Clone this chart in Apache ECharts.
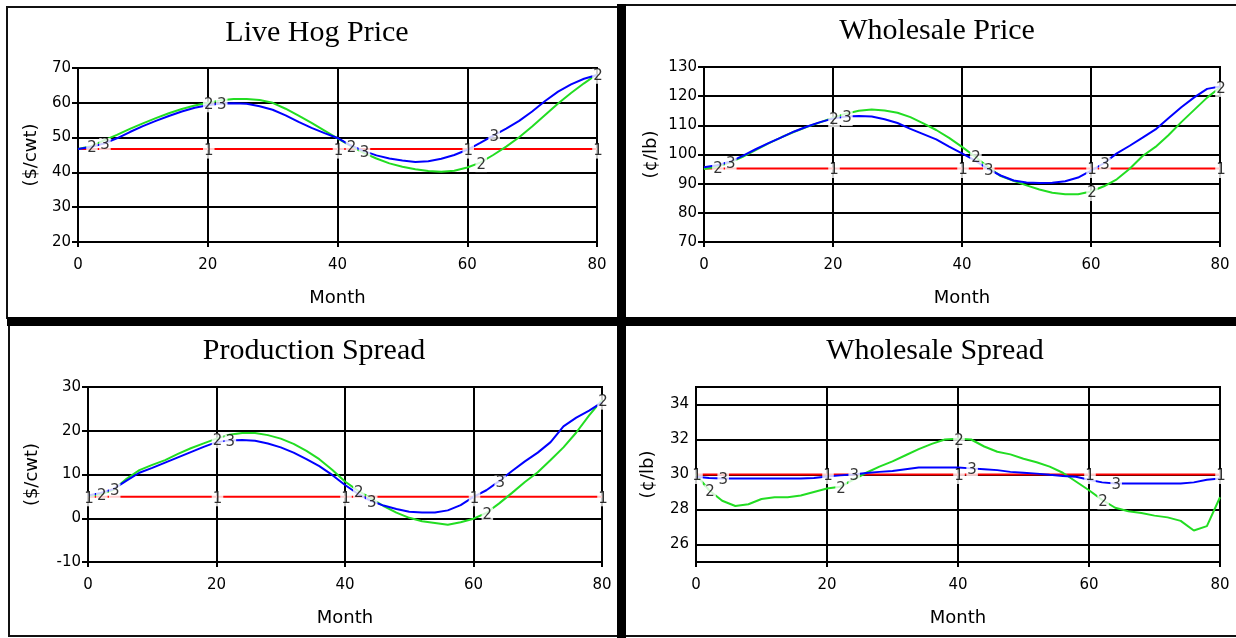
<!DOCTYPE html>
<html><head><meta charset="utf-8">
<script src="https://cdn.jsdelivr.net/npm/echarts@6/dist/echarts.min.js"></script>
<style>html,body{margin:0;padding:0;background:#fff}#c{width:1236px;height:638px}</style>
</head><body><div id="c"></div>
<script>
// ---------- DATA ----------
const months = [0,2,4,6,8,10,12,14,16,18,20,22,24,26,28,30,32,34,36,38,40,42,44,46,48,50,52,54,56,58,60,62,64,66,68,70,72,74,76,78,80];
const xTicks = [0,20,40,60,80];
const redMonths = [0,80];

const titles = ['Live Hog Price','Wholesale Price','Production Spread','Wholesale Spread'];
const yNames = ['($/cwt)','(\u00a2/lb)','($/cwt)','(\u00a2/lb)'];
const xName = 'Month';

// Live Hog Price
const hogRed = [46.7, 46.7];
const hogGreen = [46.7,47.5,49.2,50.8,52.5,54.1,55.6,57.0,58.2,59.2,60.0,60.7,61.1,61.1,60.8,60.0,58.3,56.3,54.2,52.0,49.8,47.6,45.6,44.0,42.6,41.6,40.9,40.4,40.2,40.5,41.4,42.8,45.0,47.4,50.1,53.2,56.5,59.8,62.8,65.6,68.2];
const hogBlue = [46.7,47.3,48.3,49.8,51.6,53.3,54.8,56.2,57.5,58.6,59.3,59.8,59.9,59.7,59.0,58.0,56.4,54.5,52.8,51.3,49.9,47.8,46.2,44.9,44.0,43.4,43.0,43.2,43.9,45.0,46.5,48.5,50.6,52.6,54.8,57.5,60.5,63.2,65.3,66.9,68.0];

// Wholesale Price
const whpRed = [95.2, 95.2];
const whpGreen = [95.0,95.8,97.2,99.2,101.5,103.8,105.9,107.8,109.5,111.0,112.6,114.0,115.0,115.4,115.1,114.3,112.8,110.7,108.4,105.7,102.6,99.3,95.8,92.6,91.0,89.4,88.0,86.9,86.4,86.4,87.3,89.1,91.5,95.1,99.5,102.6,106.6,111.1,115.3,119.5,123.0];
const whpBlue = [95.6,96.3,97.5,99.5,101.8,103.9,105.9,107.9,109.6,111.1,112.3,113.0,113.2,113.0,112.1,110.8,108.8,107.0,105.2,102.7,100.4,98.0,95.1,92.8,91.1,90.4,90.2,90.3,90.8,92.1,94.5,97.0,100.4,103.0,105.8,108.6,112.4,116.2,119.6,122.5,123.3];

// Production Spread
const prsRed = [4.9, 4.9];
const prsGreen = [5.0,5.5,6.5,9.0,11.0,12.2,13.3,14.7,16.0,17.1,18.2,19.1,19.5,19.5,19.0,18.2,17.0,15.4,13.5,11.1,8.4,6.3,4.6,2.8,1.3,0.1,-0.7,-1.1,-1.5,-0.9,-0.1,1.2,3.4,5.8,8.3,10.5,13.3,16.2,19.6,23.5,27.0];
const prsBlue = [5.2,5.8,6.7,8.6,10.4,11.5,12.7,13.9,15.1,16.3,17.4,17.8,17.9,17.7,17.1,16.2,15.0,13.5,11.9,9.9,7.6,5.6,4.0,2.9,2.1,1.5,1.3,1.3,1.8,3.0,4.9,6.4,8.5,10.8,13.0,15.0,17.4,21.0,23.0,24.6,26.5];

// Wholesale Spread
const wssRed = [30.0, 30.0];
const wssGreen = [30.0,29.1,28.5,28.2,28.3,28.6,28.7,28.7,28.8,29.0,29.2,29.3,29.7,30.1,30.45,30.75,31.1,31.45,31.75,32.0,32.05,32.0,31.6,31.3,31.15,30.9,30.7,30.45,30.1,29.6,29.1,28.55,28.1,27.9,27.8,27.65,27.55,27.35,26.8,27.05,28.7];
const wssBlue = [29.87,29.8,29.77,29.77,29.77,29.77,29.77,29.77,29.77,29.8,29.89,29.95,30.0,30.08,30.15,30.2,30.3,30.4,30.4,30.4,30.4,30.35,30.3,30.25,30.15,30.1,30.05,29.98,29.92,29.87,29.7,29.55,29.48,29.48,29.48,29.48,29.48,29.48,29.55,29.7,29.77];

// label positions (months) per panel: [series1, series2, series3]
const labelMonths = [
  [[20,40,60,80],[2,20,42,62,80],[4,22,44,64]],
  [[20,40,60,80],[2,20,42,60,80],[4,22,44,62]],
  [[0,20,40,60,80],[2,20,42,62,80],[4,22,44,64]],
  [[0,20,40,60,80],[2,22,40,62],[4,24,42,64]]
];

const yAxes = [
  {min:20, max:70, interval:10},
  {min:70, max:130, interval:10},
  {min:-10, max:30, interval:10},
  {min:25, max:35, interval:1}
];

// ---------- LAYOUT ----------
const grids = [
  {left:78, top:68, width:519, height:174},
  {left:704, top:67, width:516, height:175},
  {left:88, top:387, width:514, height:175},
  {left:696, top:387, width:524, height:175}
];
const titlePos = [[312,13],[932,11],[309,331],[930,331]];
const yNameGap = [38,44,47,39];

const panels = [
  [hogRed, hogGreen, hogBlue],
  [whpRed, whpGreen, whpBlue],
  [prsRed, prsGreen, prsBlue],
  [wssRed, wssGreen, wssBlue]
];
const colors = ['#ff0000','#22dd22','#0000ff'];
const sans = 'DejaVu Sans';

const option = {
  backgroundColor:'#fff',
  animation:false,
  title: titles.map((t,i)=>({text:t, left:titlePos[i][0], top:titlePos[i][1], textAlign:'center',
    textStyle:{fontFamily:'Liberation Serif', fontSize:30, fontWeight:'normal', color:'#000'}})),
  grid: grids.map(g=>Object.assign({show:true, borderColor:'#000', borderWidth:2, backgroundColor:'transparent'}, g)),
  xAxis: grids.map((g,i)=>({
    type:'value', gridIndex:i, min:0, max:80, interval:20,
    name:xName, nameLocation:'middle', nameGap:47,
    nameTextStyle:{fontFamily:sans, fontSize:18, color:'#000'},
    axisLine:{onZero:false, lineStyle:{color:'#000', width:2}},
    axisTick:{show:true, length:5, lineStyle:{color:'#000', width:2}},
    axisLabel:{margin:16, fontFamily:sans, fontSize:15, color:'#000'},
    splitLine:{show:true, lineStyle:{color:'#000', width:2}}
  })),
  yAxis: yAxes.map((a,i)=>({
    type:'value', gridIndex:i, min:a.min, max:a.max, interval:a.interval,
    name:yNames[i], nameLocation:'middle', nameGap:yNameGap[i], nameRotate:90,
    nameTextStyle:{fontFamily:sans, fontSize:18, color:'#000'},
    axisLine:{onZero:false, lineStyle:{color:'#000', width:2}},
    axisTick:{show:i!==3, length:6, lineStyle:{color:'#000', width:2}},
    axisLabel:{margin:7, fontFamily:sans, fontSize:15, color:'#000',
      formatter: i===3 ? (v=>(v%2===0?String(v):'')) : (v=>String(v))},
    splitLine:{show:true, lineStyle:{color: i===3 ? ['rgba(0,0,0,0)','#000'] : '#000', width:2}}
  })),
  series: []
};

panels.forEach((p,i)=>{
  option.series.push({type:'line', xAxisIndex:i, yAxisIndex:i, symbol:'none', z:2,
    lineStyle:{color:colors[0], width:2}, data: redMonths.map((m,k)=>[m,p[0][k]])});
  option.series.push({type:'line', xAxisIndex:i, yAxisIndex:i, symbol:'none', z:3,
    lineStyle:{color:colors[1], width:2}, data: months.map((m,k)=>[m,p[1][k]])});
  option.series.push({type:'line', xAxisIndex:i, yAxisIndex:i, symbol:'none', z:4,
    lineStyle:{color:colors[2], width:2}, data: months.map((m,k)=>[m,p[2][k]])});
  ['1','2','3'].forEach((lab,s)=>{
    const pts = labelMonths[i][s].map(m=>{
      const v = s===0 ? p[0][0] : p[s][months.indexOf(m)];
      return [m, v];
    });
    option.series.push({type:'scatter', xAxisIndex:i, yAxisIndex:i, z:10, symbolSize:0,
      silent:true, data:pts, itemStyle:{color:'#000'},
      label:{show:true, position:'inside', formatter:lab, offset:[1,2],
        fontFamily:sans, fontSize:15, color:'#000', textBorderWidth:0,
        backgroundColor:'#fff', padding:[0,1,0,1]}});
  });
});

option.graphic = [
  {type:'rect', shape:{x:7,y:7,width:611,height:311}, style:{fill:'none', stroke:'#111', lineWidth:2}, silent:true},
  {type:'line', shape:{x1:626,y1:5,x2:1236,y2:5}, style:{stroke:'#111', lineWidth:2}, silent:true},
  {type:'rect', shape:{x:617,y:4,width:9,height:634}, style:{fill:'#000'}, silent:true},
  {type:'rect', shape:{x:7,y:317,width:1229,height:9}, style:{fill:'#000'}, silent:true},
  {type:'line', shape:{x1:9,y1:326,x2:9,y2:636}, style:{stroke:'#111', lineWidth:2}, silent:true},
  {type:'line', shape:{x1:8,y1:636,x2:617,y2:636}, style:{stroke:'#111', lineWidth:2}, silent:true},
  {type:'line', shape:{x1:626,y1:636,x2:1236,y2:636}, style:{stroke:'#111', lineWidth:2}, silent:true}
];

const chart = echarts.init(document.getElementById('c'), null, {renderer:'canvas'});
chart.setOption(option);
</script></body></html>
